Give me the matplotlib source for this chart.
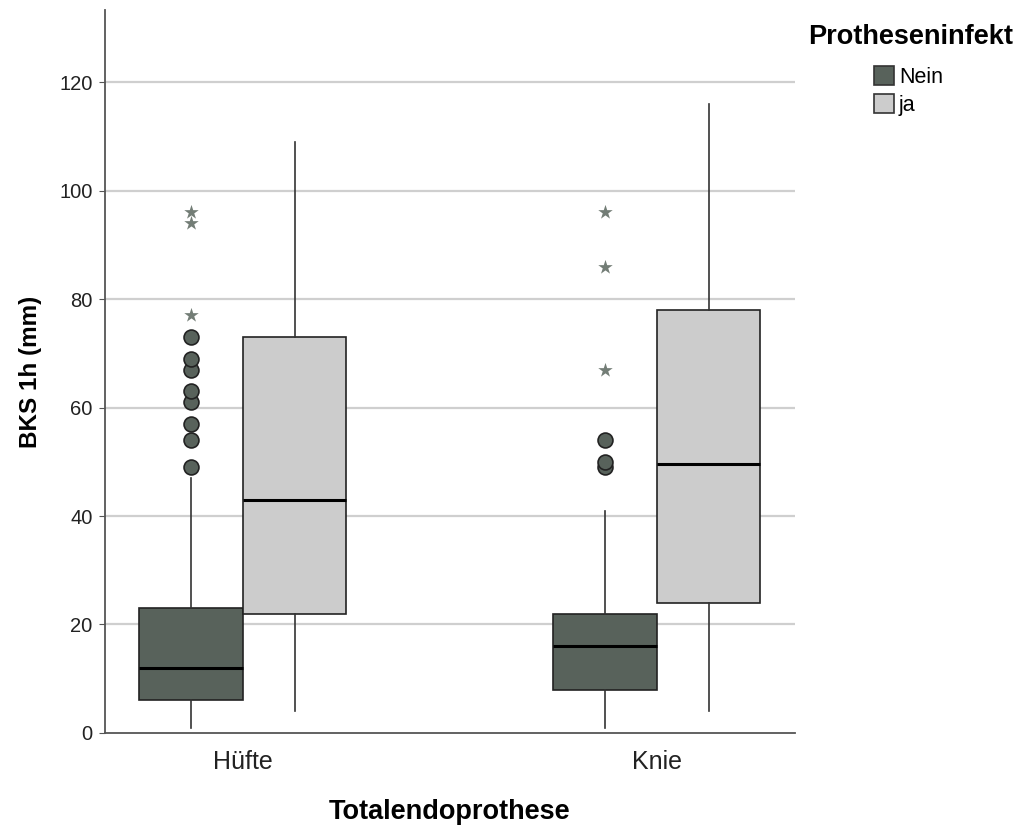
import matplotlib
matplotlib.use("Agg")
import matplotlib.pyplot as plt
from matplotlib.patches import Patch

plt.rcParams['font.family'] = ['Liberation Sans', 'DejaVu Sans']

categories = ["Hüfte", "Knie"]
groups = ["Nein", "ja"]

# five-number summaries per category, for each group
q1 = {"Nein": [6, 8], "ja": [22, 24]}
median = {"Nein": [12, 16], "ja": [43, 49.5]}
q3 = {"Nein": [23, 22], "ja": [73, 78]}
whis_lo = {"Nein": [1, 1], "ja": [4, 4]}
whis_hi = {"Nein": [47, 41], "ja": [109, 116]}

# outliers (circles) and extreme values (stars)
outliers = {"Nein": [[49, 54, 57, 61, 63, 67, 69, 73], [49, 50, 54]],
            "ja": [[], []]}
extremes = {"Nein": [[77, 94, 96], [67, 86, 96]],
            "ja": [[], []]}

colors = {"Nein": "#58625b", "ja": "#cccccc"}
star_color = "#737d76"
yticks = [0, 20, 40, 60, 80, 100, 120]

fig = plt.figure(figsize=(10.23, 8.3), dpi=100)
ax = fig.add_axes([0.1026, 0.1169, 0.6745, 0.8711])

width = 0.25
offsets = {"Nein": -0.125, "ja": 0.125}

for y in yticks[1:]:
    ax.axhline(y, color="#cfcfcf", lw=1.6, zorder=0)

for g in groups:
    stats = []
    positions = []
    for i in range(len(categories)):
        stats.append(dict(med=median[g][i], q1=q1[g][i], q3=q3[g][i],
                          whislo=whis_lo[g][i], whishi=whis_hi[g][i], fliers=[]))
        positions.append(i + offsets[g])
    ax.bxp(stats, positions=positions, widths=width, patch_artist=True,
           showcaps=False, showfliers=False,
           boxprops=dict(facecolor=colors[g], edgecolor="#222222", linewidth=1.2),
           medianprops=dict(color="black", linewidth=2.2),
           whiskerprops=dict(color="#333333", linewidth=1.2),
           manage_ticks=False, zorder=2)
    for i in range(len(categories)):
        x = i + offsets[g]
        if outliers[g][i]:
            ax.scatter([x] * len(outliers[g][i]), outliers[g][i], s=115,
                       facecolor=colors[g], edgecolor="#222222", linewidth=1.2, zorder=3)
        if extremes[g][i]:
            ax.scatter([x] * len(extremes[g][i]), extremes[g][i], s=120, marker="*",
                       color=star_color, linewidth=0, zorder=3)

ax.set_xlim(-1 / 3, 1 + 1 / 3)
ax.set_ylim(0, 133.3)
ax.set_yticks(yticks)
ax.set_xticks(range(len(categories)))
ax.set_xticklabels(categories, fontsize=18, color="#222222")
ax.tick_params(axis="x", length=0, pad=12)
ax.tick_params(axis="y", labelsize=14.5, length=4, color="#555555", labelcolor="#222222", pad=5)

for side in ("top", "right"):
    ax.spines[side].set_visible(False)
for side in ("left", "bottom"):
    ax.spines[side].set_color("#555555")
    ax.spines[side].set_linewidth(1.3)

ax.set_xlabel("Totalendoprothese", fontsize=19.5, fontweight="bold", labelpad=18)
ax.set_ylabel("BKS 1h (mm)", fontsize=17.5, fontweight="bold", labelpad=12)

fig.text(808 / 1023, 1 - 37 / 830, "Protheseninfekt", fontsize=19.5,
         fontweight="bold", va="center", ha="left")

handles = [Patch(facecolor=colors[g], edgecolor="#333333", linewidth=1.2) for g in groups]
fig.legend(handles, groups, loc="upper left", bbox_to_anchor=(874 / 1023, 1 - 66 / 830),
           frameon=False, fontsize=15.5, handlelength=0.95, handleheight=0.95,
           handletextpad=0.2, labelspacing=0.3, borderpad=0, borderaxespad=0)

fig.savefig("out.png", dpi=100)
